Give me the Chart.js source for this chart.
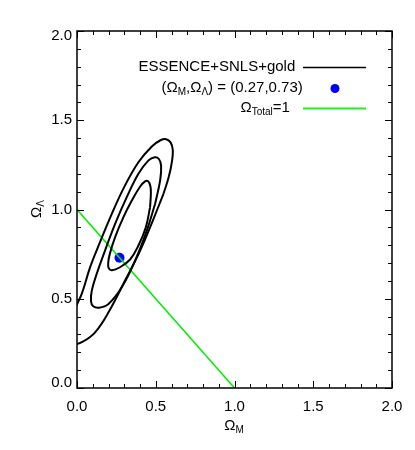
<!DOCTYPE html>
<html>
<head>
<meta charset="utf-8">
<script src="https://cdn.jsdelivr.net/npm/chart.js@4.4.0/dist/chart.umd.min.js"></script>
<style>
  body { margin: 0; background: #fff; }
  #wrap { width: 415px; height: 450px; }
</style>
</head>
<body>
<div id="wrap"><canvas id="plano" width="415" height="450"></canvas></div>
<script>
// Contornos de confianza (Omega_M, Omega_Lambda)
const contorno1 = [[0.464,1.013],[0.437,0.901],[0.390,0.798],[0.337,0.720],[0.270,0.675],[0.222,0.660],[0.202,0.670],[0.198,0.700],[0.208,0.750],[0.242,0.845],[0.295,0.957],[0.348,1.050],[0.401,1.129],[0.432,1.158],[0.452,1.158],[0.466,1.130],[0.469,1.090],[0.464,1.013]];
const contorno2 = [[0.496,1.032],[0.443,0.882],[0.369,0.714],[0.284,0.564],[0.200,0.471],[0.140,0.450],[0.103,0.458],[0.089,0.485],[0.094,0.546],[0.125,0.639],[0.178,0.770],[0.242,0.920],[0.316,1.069],[0.390,1.200],[0.454,1.275],[0.494,1.293],[0.520,1.283],[0.534,1.245],[0.528,1.163],[0.496,1.032]];
const contorno3 = [[0.549,1.088],[0.486,0.948],[0.401,0.770],[0.305,0.602],[0.200,0.424],[0.115,0.312],[0.040,0.261],[-0.010,0.247],[-0.050,0.270],[-0.050,0.350],[-0.020,0.430],[0.030,0.527],[0.083,0.676],[0.146,0.817],[0.221,0.976],[0.305,1.135],[0.390,1.265],[0.475,1.353],[0.530,1.388],[0.566,1.394],[0.594,1.376],[0.608,1.335],[0.603,1.270],[0.582,1.180],[0.549,1.088]];

// Modelo de referencia y universo plano
const puntoX = [0.27];
const puntoY = [0.73];
const planoX = [0, 1];
const planoY = [1, 0];

// Ejes
const xTicks = [0, 0.5, 1.0, 1.5, 2.0];
const yTicks = [0, 0.5, 1.0, 1.5, 2.0];
const xTickLabels = ['0.0', '0.5', '1.0', '1.5', '2.0'];
const yTickLabels = ['0.0', '0.5', '1.0', '1.5', '2.0'];
const menorPaso = 0.1;

const fuente = "'Liberation Sans', Arial, Helvetica, sans-serif";

const aPuntos = arr => arr.map(p => ({ x: p[0], y: p[1] }));

// Texto con subíndices: partes [texto, esSub]
function anchoPartes(ctx, partes) {
  let w = 0;
  partes.forEach(p => {
    ctx.font = (p[1] ? '10px ' : '15px ') + fuente;
    w += ctx.measureText(p[0]).width;
  });
  return w;
}
function dibujarPartes(ctx, partes, x, y) {
  ctx.textBaseline = 'middle';
  ctx.textAlign = 'left';
  partes.forEach(p => {
    ctx.font = (p[1] ? '10px ' : '15px ') + fuente;
    ctx.fillText(p[0], x, p[1] ? y + 4 : y);
    x += ctx.measureText(p[0]).width;
  });
}

const marcoPlugin = {
  id: 'marco',
  afterDraw(chart) {
    const ctx = chart.ctx;
    const a = chart.chartArea;
    const sx = chart.scales.x, sy = chart.scales.y;
    ctx.save();
    ctx.strokeStyle = '#000';
    ctx.fillStyle = '#000';

    // marcas hacia adentro en los cuatro lados
    ctx.lineWidth = 1;
    for (let i = 0; i <= 20; i++) {
      const v = i * menorPaso;
      const mayor = i % 5 === 0;
      const L = mayor ? 7 : 4;
      const px = Math.round(sx.getPixelForValue(v)) + 0.5;
      const py = Math.round(sy.getPixelForValue(v)) + 0.5;
      ctx.beginPath();
      ctx.moveTo(px, a.bottom); ctx.lineTo(px, a.bottom - L);
      ctx.moveTo(px, a.top); ctx.lineTo(px, a.top + L);
      ctx.moveTo(a.left, py); ctx.lineTo(a.left + L, py);
      ctx.moveTo(a.right, py); ctx.lineTo(a.right - L, py);
      ctx.stroke();
    }

    // marco
    ctx.lineWidth = 1.5;
    ctx.strokeRect(a.left, a.top, a.right - a.left, a.bottom - a.top);

    // etiquetas de los ejes
    ctx.font = '15px ' + fuente;
    ctx.textBaseline = 'middle';
    ctx.textAlign = 'center';
    xTicks.forEach((v, i) => {
      ctx.fillText(xTickLabels[i], sx.getPixelForValue(v), a.bottom + 19);
    });
    ctx.textAlign = 'right';
    yTicks.forEach((v, i) => {
      let py = sy.getPixelForValue(v);
      py = Math.min(Math.max(py, a.top + 5), a.bottom - 5);
      ctx.fillText(yTickLabels[i], a.left - 5, py);
    });

    // títulos
    const tx = [['\u03A9', false], ['M', true]];
    dibujarPartes(ctx, tx, 234 - anchoPartes(ctx, tx) / 2, 426);
    ctx.save();
    ctx.translate(37, 209);
    ctx.rotate(-Math.PI / 2);
    const ty = [['\u03A9', false], ['\u039B', true]];
    dibujarPartes(ctx, ty, -anchoPartes(ctx, ty) / 2, 0);
    ctx.restore();

    // leyenda
    dibujarPartes(ctx, [['ESSENCE+SNLS+gold', false]], 138.5, 66.5);
    dibujarPartes(ctx, [['(\u03A9', false], ['M', true], [',\u03A9', false], ['\u039B', true], [') = (0.27,0.73)', false]], 161.5, 88);
    dibujarPartes(ctx, [['\u03A9', false], ['Total', true], ['=1', false]], 240.5, 108);

    ctx.lineWidth = 1.5;
    ctx.beginPath();
    ctx.moveTo(303, 67.5); ctx.lineTo(366, 67.5);
    ctx.stroke();
    ctx.fillStyle = '#0000ff';
    ctx.beginPath();
    ctx.arc(335, 88.5, 4.5, 0, Math.PI * 2);
    ctx.fill();
    ctx.strokeStyle = '#22ee22';
    ctx.lineWidth = 2;
    ctx.beginPath();
    ctx.moveTo(303, 108.5); ctx.lineTo(366, 108.5);
    ctx.stroke();
    ctx.restore();
  }
};

const lineaContorno = datos => ({
  data: aPuntos(datos),
  showLine: true,
  borderColor: '#000',
  borderWidth: 2,
  pointRadius: 0,
  tension: 0.4,
  fill: false
});

new Chart(document.getElementById('plano'), {
  type: 'scatter',
  data: {
    datasets: [
      lineaContorno(contorno1),
      lineaContorno(contorno2),
      lineaContorno(contorno3),
      {
        data: planoX.map((x, i) => ({ x: x, y: planoY[i] })),
        showLine: true,
        borderColor: '#00ee00',
        borderWidth: 1.5,
        pointRadius: 0
      },
      {
        data: puntoX.map((x, i) => ({ x: x, y: puntoY[i] })),
        pointRadius: 5,
        pointBackgroundColor: '#0000ff',
        pointBorderWidth: 0
      }
    ]
  },
  options: {
    responsive: false,
    animation: false,
    layout: { padding: { left: 77, top: 31, right: 23, bottom: 62 } },
    plugins: { legend: { display: false }, tooltip: { enabled: false } },
    scales: {
      x: { type: 'linear', min: 0, max: 2, display: false },
      y: { type: 'linear', min: 0, max: 2, display: false }
    }
  },
  plugins: [marcoPlugin]
});
</script>
</body>
</html>
